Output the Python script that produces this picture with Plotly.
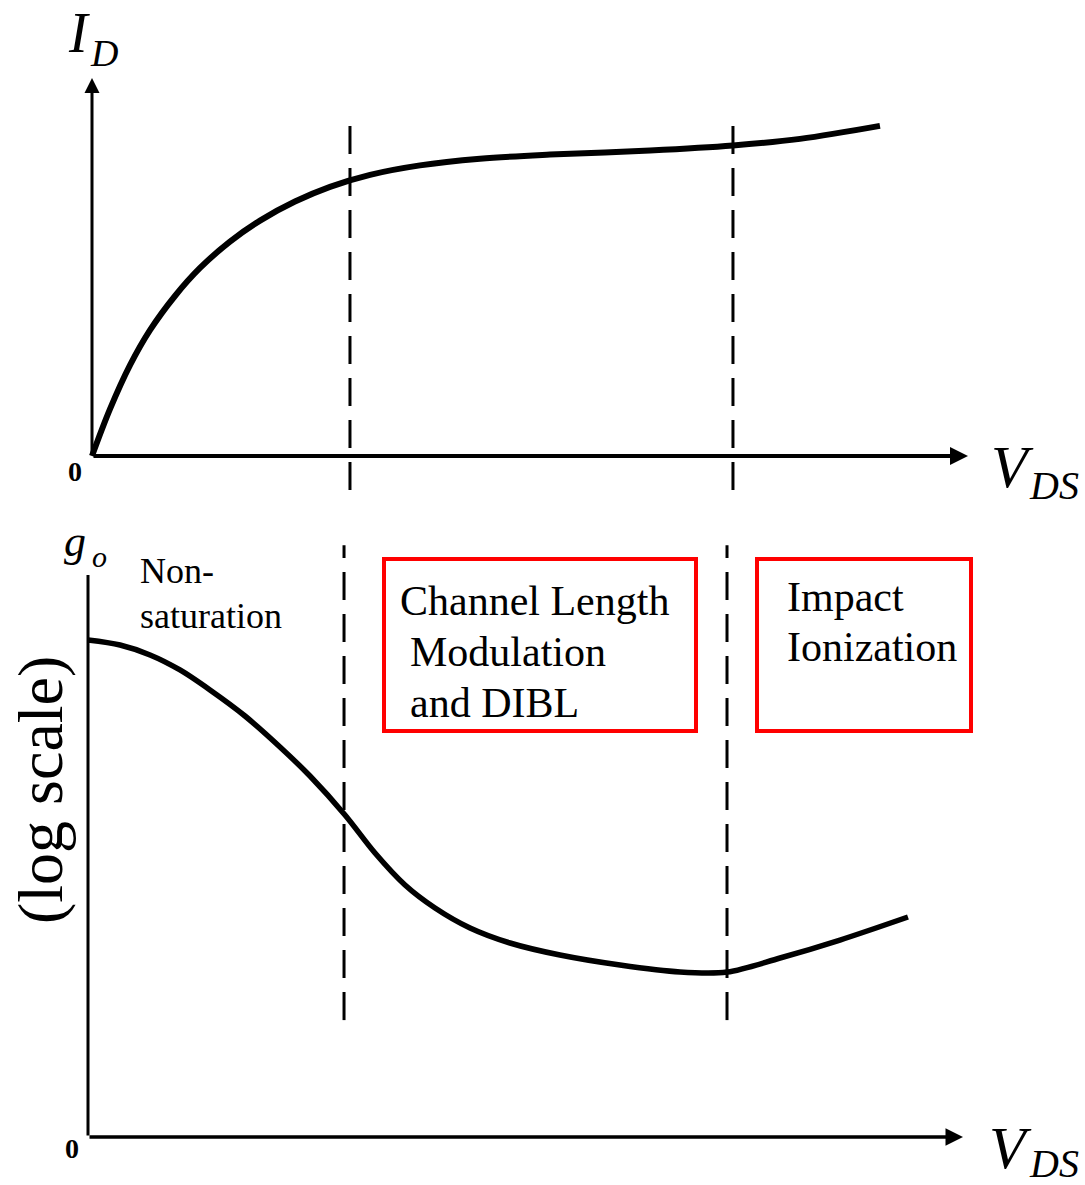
import plotly.graph_objects as go

# ---------------- data (arbitrary units) ----------------
# Top panel: drain current I_D versus V_DS
vds_top = [0.0, 0.205, 0.434, 0.662, 0.947, 1.233, 1.575, 1.918, 2.317, 2.717, 3.174,
           3.744, 4.429, 5.228, 6.37, 7.317, 8.082, 8.995]
id_top = [0.0, 1.238, 2.402, 3.328, 4.233, 4.974, 5.672, 6.228, 6.731, 7.12, 7.438,
          7.689, 7.864, 7.975, 8.081, 8.213, 8.39, 8.734]

# Bottom panel: output conductance g_o (log scale) versus V_DS
vds_bot = [0.0, 0.366, 0.709, 1.051, 1.394, 1.794, 2.194, 2.537, 2.937, 3.28, 3.623,
           3.966, 4.366, 4.823, 5.394, 6.08, 6.766, 7.303, 7.909, 8.594, 9.371]
go_bot = [8.843, 8.754, 8.577, 8.31, 7.954, 7.491, 6.94, 6.423, 5.73, 5.053, 4.484,
          4.075, 3.719, 3.452, 3.238, 3.06, 2.936, 2.936, 3.185, 3.505, 3.915]

# Region boundaries (V_DSsat and onset of impact ionization)
bound_top = [2.945, 7.317]
bound_bot = [2.926, 7.303]
dash_top_y = [-0.9, 8.89]
dash_bot_y = [2.08, 10.53]

axis_max = 10.0

# ---------------- figure ----------------
W, H = 1085, 1185


def px(x):
    return x / W


def py(y):
    return 1 - y / H


SERIF = "Liberation Serif"

fig = go.Figure()

fig.add_trace(go.Scatter(x=vds_top, y=id_top, mode="lines",
                         line=dict(color="black", width=6, shape="spline", smoothing=1.0),
                         xaxis="x", yaxis="y", hoverinfo="skip"))
fig.add_trace(go.Scatter(x=vds_bot, y=go_bot, mode="lines",
                         line=dict(color="black", width=5.5, shape="spline", smoothing=0.9),
                         xaxis="x2", yaxis="y2", hoverinfo="skip"))

for b in bound_top:
    fig.add_trace(go.Scatter(x=[b, b], y=dash_top_y, mode="lines",
                             line=dict(color="black", width=3, dash="28px,14px"),
                             xaxis="x", yaxis="y", hoverinfo="skip"))
for b in bound_bot:
    fig.add_trace(go.Scatter(x=[b, b], y=dash_bot_y, mode="lines",
                             line=dict(color="black", width=3, dash="28px,14px"),
                             xaxis="x2", yaxis="y2", hoverinfo="skip"))

annotations = []

# axes drawn as arrows
annotations.append(dict(x=0, y=axis_max, ax=0, ay=0, xref="x", yref="y", axref="x", ayref="y",
                        text="", showarrow=True, arrowhead=2, arrowsize=1.0, arrowwidth=3, arrowcolor="black"))
annotations.append(dict(x=axis_max, y=0, ax=0, ay=0, xref="x", yref="y", axref="x", ayref="y",
                        text="", showarrow=True, arrowhead=2, arrowsize=0.9, arrowwidth=4, arrowcolor="black"))
annotations.append(dict(x=0, y=axis_max, ax=0, ay=0, xref="x2", yref="y2", axref="x2", ayref="y2",
                        text="", showarrow=True, arrowhead=0, arrowwidth=3, arrowcolor="black"))
annotations.append(dict(x=axis_max, y=0, ax=0, ay=0, xref="x2", yref="y2", axref="x2", ayref="y2",
                        text="", showarrow=True, arrowhead=2, arrowsize=1.0, arrowwidth=3.5, arrowcolor="black"))


def label(text, x, y, size, xanchor="left", yanchor="middle", angle=0, color="black"):
    annotations.append(dict(x=px(x), y=py(y), xref="paper", yref="paper", text=text, showarrow=False,
                            xanchor=xanchor, yanchor=yanchor, textangle=angle, borderpad=0,
                            font=dict(family=SERIF, size=size, color=color)))


# axis titles
label("<i>I</i>", 67, 33, 56)
label("<i>D</i>", 89, 53, 38)
label("<i>V</i>", 990, 467, 60)
label("<i>DS</i>", 1028, 486, 40)
label("<i>V</i>", 988, 1148, 60)
label("<i>DS</i>", 1028, 1163, 40)
label("<i>g</i>", 63, 541, 44)
label("<i>o</i>", 91, 556, 30)
label("(log scale)", 40, 790, 64, xanchor="center", angle=-90)
label("<b>0</b>", 75, 471, 28, xanchor="center")
label("<b>0</b>", 72, 1148, 28, xanchor="center")

# region labels
label("Non-", 139, 571, 36)
label("saturation", 139, 616, 36)
label("Channel Length", 399, 601, 42)
label("Modulation", 409, 652, 42)
label("and DIBL", 409, 703, 42)
label("Impact", 786, 597, 42)
label("Ionization", 786, 647, 42)

shapes = [
    dict(type="rect", xref="paper", yref="paper", x0=px(384), x1=px(696), y0=py(559), y1=py(731),
         line=dict(color="#ff0000", width=4), fillcolor="rgba(0,0,0,0)"),
    dict(type="rect", xref="paper", yref="paper", x0=px(757), x1=px(971), y0=py(559), y1=py(731),
         line=dict(color="#ff0000", width=4), fillcolor="rgba(0,0,0,0)"),
]

# axis mapping (V_DS = 0 at the origin, 10 at the arrow tip)
x_top0, x_top10 = 92, 968
y_top0, y_top10 = 456, 78
x_bot0, x_bot10 = 88, 963
y_bot0, y_bot10 = 1137, 575

sx_t = (x_top10 - x_top0) / axis_max
sy_t = (y_top0 - y_top10) / axis_max
sx_b = (x_bot10 - x_bot0) / axis_max
sy_b = (y_bot0 - y_bot10) / axis_max

top_pix_lo, top_pix_hi = 0, 520      # vertical pixel span of top subplot
bot_pix_lo, bot_pix_hi = 525, 1185

ax_common = dict(visible=False, showgrid=False, zeroline=False, fixedrange=True)

fig.update_layout(
    width=W, height=H, margin=dict(l=0, r=0, t=0, b=0),
    paper_bgcolor="white", plot_bgcolor="white", showlegend=False,
    xaxis=dict(domain=[0, 1], range=[-x_top0 / sx_t, (W - x_top0) / sx_t], anchor="y", **ax_common),
    yaxis=dict(domain=[py(top_pix_hi), py(top_pix_lo)],
               range=[(y_top0 - top_pix_hi) / sy_t, (y_top0 - top_pix_lo) / sy_t], anchor="x", **ax_common),
    xaxis2=dict(domain=[0, 1], range=[-x_bot0 / sx_b, (W - x_bot0) / sx_b], anchor="y2", **ax_common),
    yaxis2=dict(domain=[py(bot_pix_hi), py(bot_pix_lo)],
                range=[(y_bot0 - bot_pix_hi) / sy_b, (y_bot0 - bot_pix_lo) / sy_b], anchor="x2", **ax_common),
    annotations=annotations,
    shapes=shapes,
)

fig.write_html("out.html", config={"displayModeBar": False})
